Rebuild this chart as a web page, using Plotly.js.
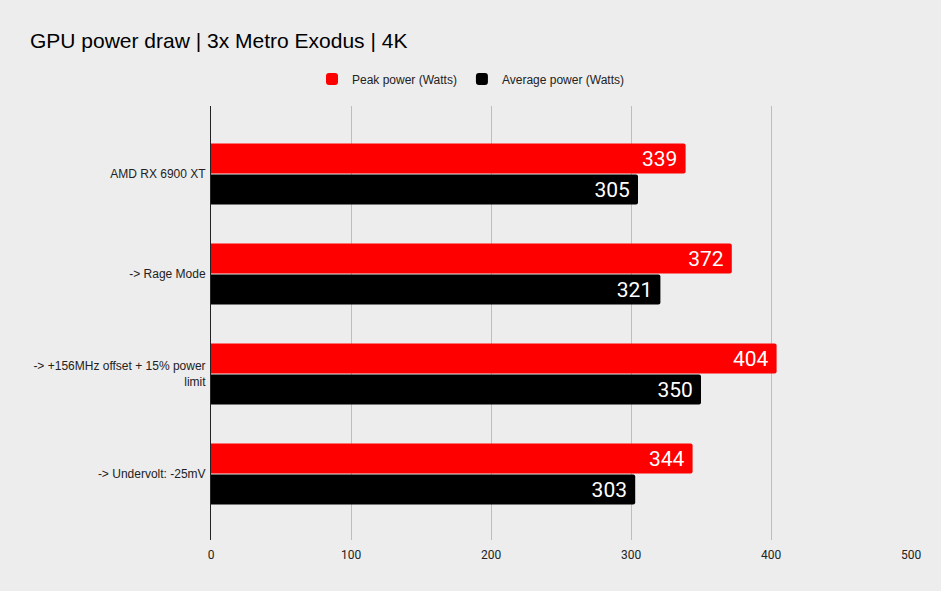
<!DOCTYPE html>
<html>
<head>
<meta charset="utf-8">
<script src="https://cdn.plot.ly/plotly-3.0.1.min.js"></script>
<style>html,body{margin:0;padding:0;background:#ededed;}#chart{width:941px;height:591px;}</style>
</head>
<body>
<div id="chart"></div>
<script>
const categories = ["AMD RX 6900 XT", "-> Rage Mode", "-> +156MHz offset + 15% power limit", "-> Undervolt: -25mV"];
const tickLabels = ["AMD RX 6900 XT", "-> Rage Mode", "-> +156MHz offset + 15% power<br>limit", "-> Undervolt: -25mV"];
const peakPower = [339, 372, 404, 344];
const avgPower = [305, 321, 350, 303];
const seriesNames = ["Peak power (Watts)", "Average power (Watts)"];
const xTicks = [0, 100, 200, 300, 400, 500];

const common = {
  type: 'bar', orientation: 'h', y: categories,
  textposition: 'inside', insidetextanchor: 'end', texttemplate: '%{x} ',
  textfont: {family: 'Roboto, Arial, sans-serif', size: 21, color: '#ffffff'},
  cliponaxis: false, hoverinfo: 'none'
};
const traces = [
  Object.assign({}, common, {x: peakPower, name: seriesNames[0], marker: {color: '#ff0000', cornerradius: 2}}),
  Object.assign({}, common, {x: avgPower, name: seriesNames[1], marker: {color: '#000000', cornerradius: 2}})
];
const layout = {
  width: 941, height: 591,
  paper_bgcolor: '#ededed', plot_bgcolor: '#ededed',
  margin: {l: 211, r: 30, t: 106, b: 51, pad: 0},
  title: {text: 'GPU power draw | 3x Metro Exodus | 4K', x: 30/941, xref: 'container', xanchor: 'left', y: 1 - 41/591, yanchor: 'middle',
    font: {family: 'Liberation Sans, Arial, sans-serif', size: 21, color: '#000000'}},
  barmode: 'group', bargap: 0.38, bargroupgap: 0.032,
  showlegend: true,
  legend: {orientation: 'h', xref: 'container', yref: 'container', x: 0.5, xanchor: 'center', y: 1 - 79/591, yanchor: 'middle',
    font: {family: 'Liberation Sans, Arial, sans-serif', size: 12, color: '#222222'}, traceorder: 'normal', itemwidth: 30,
    bgcolor: 'rgba(0,0,0,0)'},
  xaxis: {range: [0, 500], tickvals: xTicks, ticktext: xTicks.map(String), showgrid: true, gridcolor: '#bdbdbd', gridwidth: 1,
    zeroline: false, showline: false, ticks: '', ticklabelstandoff: 6,
    tickfont: {family: 'Roboto, Arial, sans-serif', size: 12, color: '#222222'}},
  yaxis: {type: 'category', range: [3.66, -0.68], tickvals: categories, ticktext: tickLabels, showgrid: false,
    showline: true, linecolor: '#222222', linewidth: 1, ticks: '', ticklabelstandoff: 2,
    tickfont: {family: 'Liberation Sans, Arial, sans-serif', size: 12, color: '#222222'}}
};
Plotly.newPlot('chart', traces, layout, {displayModeBar: false, staticPlot: true});
</script>
</body>
</html>
